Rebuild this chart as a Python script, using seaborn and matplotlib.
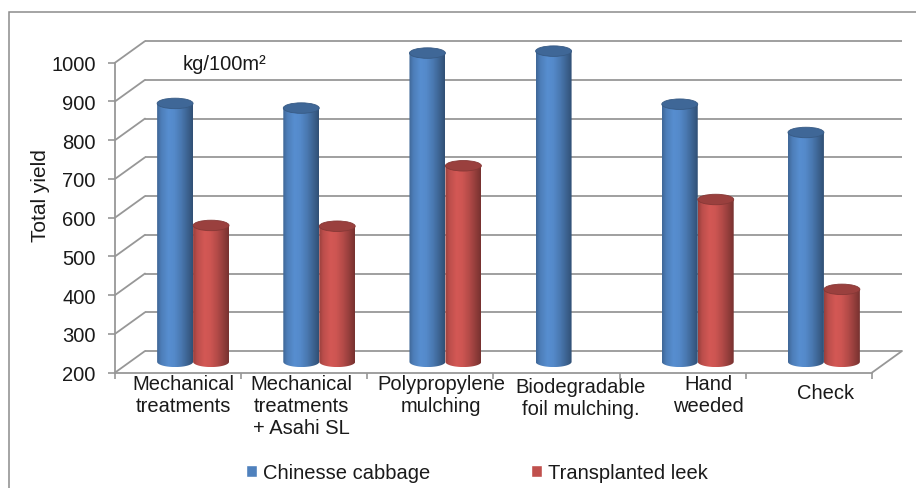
import numpy as np
import pandas as pd
import matplotlib
matplotlib.use("Agg")
import matplotlib.pyplot as plt
from matplotlib.patches import Ellipse, PathPatch, Rectangle, ConnectionPatch
from matplotlib.path import Path
from matplotlib.colors import to_rgb
import seaborn as sns

# ---- data -------------------------------------------------------------
treatments = [
    "Mechanical\ntreatments",
    "Mechanical\ntreatments\n+ Asahi SL",
    "Polypropylene\nmulching",
    "Biodegradable\nfoil mulching.",
    "Hand\nweeded",
    "Check",
]
cabbage_yield = [867, 855, 997, 1002, 865, 792]
leek_yield = [552, 550, 706, np.nan, 619, 387]
series_names = ["Chinesse cabbage", "Transplanted leek"]
series_colors = ["#4f81bd", "#c0504d"]
y_ticks = [200, 300, 400, 500, 600, 700, 800, 900, 1000]
y_min, y_max = 200, 1000

df = pd.DataFrame({
    "treatment": treatments * 2,
    "crop": [series_names[0]] * len(treatments) + [series_names[1]] * len(treatments),
    "yield": cabbage_yield + leek_yield,
})

# horizontal / vertical nudges (px) of the category labels
label_dx = [-10, -18, -4, 9, 11, 2]
label_dy = [0, 0, 0, 3, 0, 9]

# ---- style ------------------------------------------------------------
sns.set_theme(style="white")
plt.rcParams["font.family"] = ["Liberation Sans", "DejaVu Sans"]
FS = 14.5
TXT = "#1a1a1a"
GRID = "#979797"

W, H, DPI = 916, 489, 100
fig = plt.figure(figsize=(W / DPI, H / DPI), dpi=DPI, facecolor="white")


def fig_rect(left, right, top, bottom):
    """Axes rectangle from pixel edges (origin top-left)."""
    return [left / W, 1 - bottom / H, (right - left) / W, (bottom - top) / H]


# three parallel planes of the pseudo-3D box: back wall, bar plane, front
DX, DY = 15, 10.8
MID = (130, 887, 52.9, 362.8)           # left, right, y(1000), y(200) in px
PPU = (MID[3] - MID[2]) / (y_max - y_min)  # px per data unit
PAD_LO, PAD_HI = 40, 40                  # extra data room for cylinder caps
ax_back = fig.add_axes(fig_rect(MID[0] + DX, MID[1] + DX, MID[2] - DY, MID[3] - DY))
ax = fig.add_axes(fig_rect(MID[0], MID[1], MID[2] - PAD_HI * PPU, MID[3] + PAD_LO * PPU))
ax_front = fig.add_axes(fig_rect(MID[0] - DX, MID[1] - DX, MID[2] + DY, MID[3] + DY))

for a in (ax_back, ax, ax_front):
    a.set_facecolor("none")
    for s in a.spines.values():
        s.set_visible(False)

# back wall gridlines
ax_back.hlines(y_ticks, -0.5, len(treatments) - 0.5, color=GRID, lw=1.3, clip_on=False)
ax_back.set_xlim(-0.5, len(treatments) - 0.5)
ax_back.set_ylim(y_min, y_max)
ax_back.set_xticks([])
ax_back.set_yticks([])

# ---- bars ---------------------------------------------------------------
sns.barplot(data=df, x="treatment", y="yield", hue="crop", palette=series_colors,
            width=0.57, saturation=1, ax=ax, legend=True)
sns.move_legend(ax, "center", bbox_to_anchor=(477 / W, 1 - 474 / H),
                bbox_transform=fig.transFigure, ncol=2, frameon=False, title=None,
                handlelength=0.55, handleheight=0.55, handletextpad=0.3,
                columnspacing=5.0, fontsize=FS)
for t in ax.get_legend().get_texts():
    t.set_color(TXT)

ell_h = 10.5 / PPU

stops = np.array([0.0, 0.12, 0.32, 0.48, 0.68, 0.88, 1.0])
mults = np.array([0.80, 0.98, 1.10, 1.07, 0.93, 0.74, 0.62])
xs = np.linspace(0, 1, 64)
shade = np.interp(xs, stops, mults)

for p in list(ax.patches):
    h = p.get_height()
    if not np.isfinite(h) or h <= 0:
        continue
    x0, w = p.get_x(), p.get_width()
    top = p.get_y() + h
    cx = x0 + w / 2
    base = np.array(to_rgb(p.get_facecolor()))
    p.set_visible(False)

    # cylinder body: rectangle + rounded lower half-ellipse
    t = np.linspace(np.pi, 2 * np.pi, 40)
    verts = [(x0, top), (x0, y_min)]
    verts += list(zip(cx + w / 2 * np.cos(t), y_min + ell_h / 2 * np.sin(t)))
    verts += [(x0 + w, y_min), (x0 + w, top), (x0, top)]
    body = PathPatch(Path(verts), transform=ax.transData, facecolor="none", edgecolor="none")

    grad = np.clip(base[None, None, :] * shade[None, :, None], 0, 1)
    ax.imshow(grad, extent=(x0, x0 + w, y_min - ell_h / 2, top), aspect="auto",
              origin="lower", interpolation="bilinear", zorder=2, clip_path=body)

    # cylinder top
    ax.add_patch(Ellipse((cx, top), w, ell_h, facecolor=np.clip(base * 0.80, 0, 1),
                         edgecolor=np.clip(base * 0.70, 0, 1), lw=0.6, zorder=3,
                         clip_on=False))

ax.set_xlim(-0.5, len(treatments) - 0.5)
ax.set_ylim(y_min - PAD_LO, y_max + PAD_HI)
ax.set_yticks([])
ax.set_xlabel("")
ax.set_ylabel("")

# category labels under the floor
cat_w_px = (MID[1] - MID[0]) / len(treatments)
ax.set_xticks(np.arange(len(treatments)) + np.array(label_dx) / cat_w_px)
ax.set_xticklabels(treatments)
label_pad_pt = (12.5 - PAD_LO * PPU) * 72 / DPI
ax.tick_params(axis="x", length=0, pad=label_pad_pt, labelsize=FS, labelcolor=TXT)
ax_h_px = ax.get_position().height * H
for lab, dy in zip(ax.get_xticklabels(), label_dy):
    lab.set_y(-dy / ax_h_px)

# ---- front axis and floor edge -------------------------------------------
ax_front.set_xlim(-0.5, len(treatments) - 0.5)
ax_front.set_ylim(y_min, y_max)
for side in ("left", "bottom"):
    ax_front.spines[side].set_visible(True)
    ax_front.spines[side].set_color(GRID)
    ax_front.spines[side].set_linewidth(1.3)
ax_front.set_yticks(y_ticks)
ax_front.set_yticklabels([str(v) for v in y_ticks])
ax_front.tick_params(axis="y", direction="out", length=5, width=1.2, color=GRID,
                     pad=9, labelsize=FS, labelcolor=TXT, left=True)
ax_front.set_xticks([k - 0.5 for k in range(len(treatments) + 1)])
ax_front.set_xticklabels([])
ax_front.tick_params(axis="x", direction="out", length=4, width=1.2, color=GRID, bottom=True)

# side wall / floor diagonals joining the front plane to the back wall
for v in y_ticks:
    fig.add_artist(ConnectionPatch(xyA=(-0.5, v), coordsA=ax_front.transData,
                                   xyB=(-0.5, v), coordsB=ax_back.transData,
                                   color=GRID, lw=1.3))
fig.add_artist(ConnectionPatch(xyA=(len(treatments) - 0.5, y_min), coordsA=ax_front.transData,
                               xyB=(len(treatments) - 0.5, y_min), coordsB=ax_back.transData,
                               color=GRID, lw=1.3))

# ---- texts and frame ------------------------------------------------------
fig.text(40 / W, 1 - 196 / H, "Total yield", rotation=90, ha="center", va="center",
         fontsize=FS + 0.5, color=TXT)
fig.text(183 / W, 1 - 70 / H, "kg/100m²", ha="left", va="baseline", fontsize=FS, color=TXT)

fig.add_artist(Rectangle((8.5 / W, -0.5), 2, 1.5 - 12.5 / H, transform=fig.transFigure,
                         fill=False, edgecolor="#8c8c8c", lw=1.1))

fig.savefig("out.png", dpi=DPI, facecolor="white")
